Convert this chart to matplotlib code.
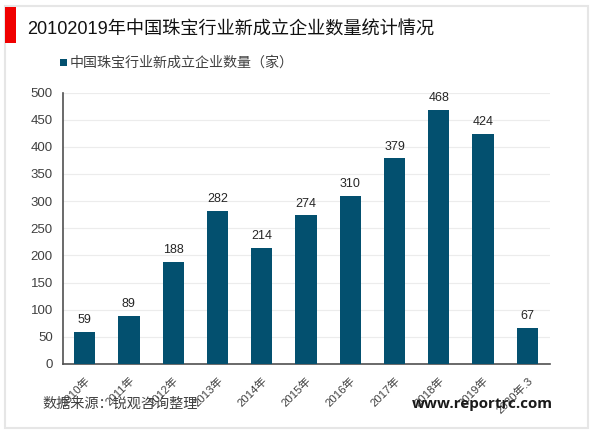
import matplotlib
matplotlib.use('Agg')
import matplotlib.pyplot as plt
from matplotlib.patches import Rectangle

plt.rcParams['font.family'] = ['Liberation Sans', 'Noto Sans CJK SC']

years = ['2010年', '2011年', '2012年', '2013年', '2014年', '2015年', '2016年',
         '2017年', '2018年', '2019年', '2020年.3']
counts = [59, 89, 188, 282, 214, 274, 310, 379, 468, 424, 67]
yticks = [0, 50, 100, 150, 200, 250, 300, 350, 400, 450, 500]
series_name = '中国珠宝行业新成立企业数量（家）'
title = '20102019年中国珠宝行业新成立企业数量统计情况'
source = '数据来源：锐观咨询整理'
site = 'www.reportrc.com'

W, H = 600, 433
bar_color = '#03506F'
text_color = '#404040'

def fx(px):
    return px / W

def fy(py):
    return 1 - py / H

fig = plt.figure(figsize=(6, 4.33), dpi=100, facecolor='white')

# outer frame and red marker
fig.add_artist(Rectangle((fx(5), fy(428)), fx(583), (422) / H, transform=fig.transFigure,
                         fill=False, edgecolor='#e6e6e6', linewidth=1.5))
fig.add_artist(Rectangle((fx(5), fy(43)), fx(11), 36 / H, transform=fig.transFigure,
                         facecolor='#f00000', edgecolor='none'))

ax = fig.add_axes([fx(62.5), fy(364), fx(487), 271.5 / H])
ax.bar(range(len(years)), counts, width=0.48, color=bar_color, zorder=3)
ax.set_xlim(-0.5, len(years) - 0.5)
ax.set_ylim(0, 500)
ax.set_yticks(yticks)
ax.set_xticks(range(len(years)))
ax.set_xticklabels(years, rotation=45, ha='right', rotation_mode='anchor',
                   fontsize=8.2, color=text_color)
ax.tick_params(axis='x', length=0, pad=8)
ax.tick_params(axis='y', length=0, pad=7, labelsize=9.5, labelcolor=text_color)
ax.grid(axis='y', color='#ececec', linewidth=0.8, zorder=0)
ax.set_axisbelow(True)
for s in ['top', 'right']:
    ax.spines[s].set_visible(False)
for s in ['left', 'bottom']:
    ax.spines[s].set_color('#505050')
    ax.spines[s].set_linewidth(1.2)

for i, v in enumerate(counts):
    ax.annotate(str(v), (i, v), xytext=(0, 4), textcoords='offset points',
                ha='center', va='bottom', fontsize=9, color='#262626')

fig.text(fx(27), fy(30), title, fontsize=13.1, color='#111111', va='center', ha='left')

# legend
fig.add_artist(Rectangle((fx(59.5), fy(66)), fx(7), 7 / H, transform=fig.transFigure,
                         facecolor=bar_color, edgecolor='none'))
fig.text(fx(70), fy(63), series_name, fontsize=10.1, color=text_color, va='center', ha='left')

fig.text(fx(42), fy(404), source, fontsize=10.2, color=text_color, va='center', ha='left')
fig.text(fx(412), fy(404), site, fontsize=10.9, fontweight='bold', color='#1a1a1a',
         family=['Open Sans', 'DejaVu Sans'], va='center', ha='left')

fig.savefig('out.png', dpi=100)
